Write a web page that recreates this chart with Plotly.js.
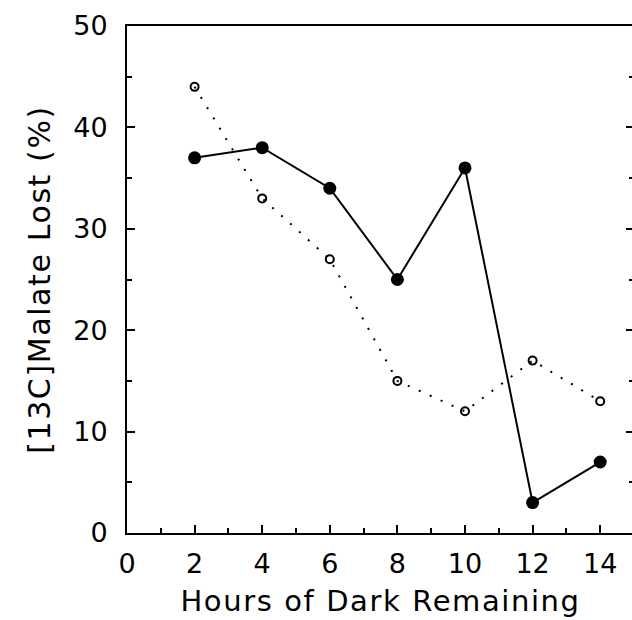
<!DOCTYPE html>
<html>
<head>
<meta charset="utf-8">
<script src="https://cdn.plot.ly/plotly-3.0.1.min.js"></script>
<style>
html,body{margin:0;padding:0;overflow:hidden;background:#fff;width:632px;height:620px;}
#chart{width:640px;height:620px;}
.xtitle,.ytitle{letter-spacing:1.6px;}
</style>
</head>
<body>
<div id="chart"></div>
<script>
const hours = [2, 4, 6, 8, 10, 12, 14];
const filledSeries = [37, 38, 34, 25, 36, 3, 7];
const openSeries = [44, 33, 27, 15, 12, 17, 13];
const xTickVals = [0, 2, 4, 6, 8, 10, 12, 14];
const yTickVals = [0, 10, 20, 30, 40, 50];

const FONT = "DejaVu Sans, sans-serif";

const traces = [
  {
    x: hours, y: openSeries, type: 'scatter', mode: 'lines+markers',
    line: {color: '#000', width: 2, dash: '2px,10px'},
    marker: {symbol: 'circle-open', size: 8, color: '#000', line: {width: 2, color: '#000'}},
    hoverinfo: 'skip'
  },
  {
    x: hours, y: filledSeries, type: 'scatter', mode: 'lines+markers',
    line: {color: '#000', width: 2},
    marker: {symbol: 'circle', size: 13, color: '#000'},
    hoverinfo: 'skip'
  }
];

const layout = {
  width: 640, height: 620,
  margin: {l: 127, r: 6, t: 26, b: 87},
  paper_bgcolor: '#fff', plot_bgcolor: '#fff',
  showlegend: false,
  font: {family: FONT, color: '#000', size: 27},
  xaxis: {
    range: [0, 15], showgrid: false, zeroline: false,
    showline: true, linecolor: '#000', linewidth: 2, mirror: true,
    ticks: 'inside', ticklen: 8, tickwidth: 2, tickcolor: '#000',
    tickvals: xTickVals, ticktext: xTickVals.map(String),
    tickfont: {family: FONT, size: 27, color: '#000'},
    ticklabelstandoff: 6,
    minor: {dtick: 1, ticks: 'inside', ticklen: 5, tickwidth: 2, tickcolor: '#000', showgrid: false},
    title: {text: 'Hours of Dark Remaining', font: {family: FONT, size: 29, color: '#000'}, standoff: 12}
  },
  yaxis: {
    range: [0, 50], showgrid: false, zeroline: false,
    showline: true, linecolor: '#000', linewidth: 2, mirror: 'ticks',
    ticks: 'inside', ticklen: 8, tickwidth: 2, tickcolor: '#000',
    tickvals: yTickVals, ticktext: yTickVals.map(String),
    tickfont: {family: FONT, size: 27, color: '#000'},
    ticklabelstandoff: 12,
    minor: {dtick: 5, ticks: 'inside', ticklen: 5, tickwidth: 2, tickcolor: '#000', showgrid: false},
    title: {text: '[13C]Malate Lost (%)', font: {family: FONT, size: 30, color: '#000'}, standoff: 14}
  }
};

Plotly.newPlot('chart', traces, layout, {staticPlot: true, displayModeBar: false});
</script>
</body>
</html>
